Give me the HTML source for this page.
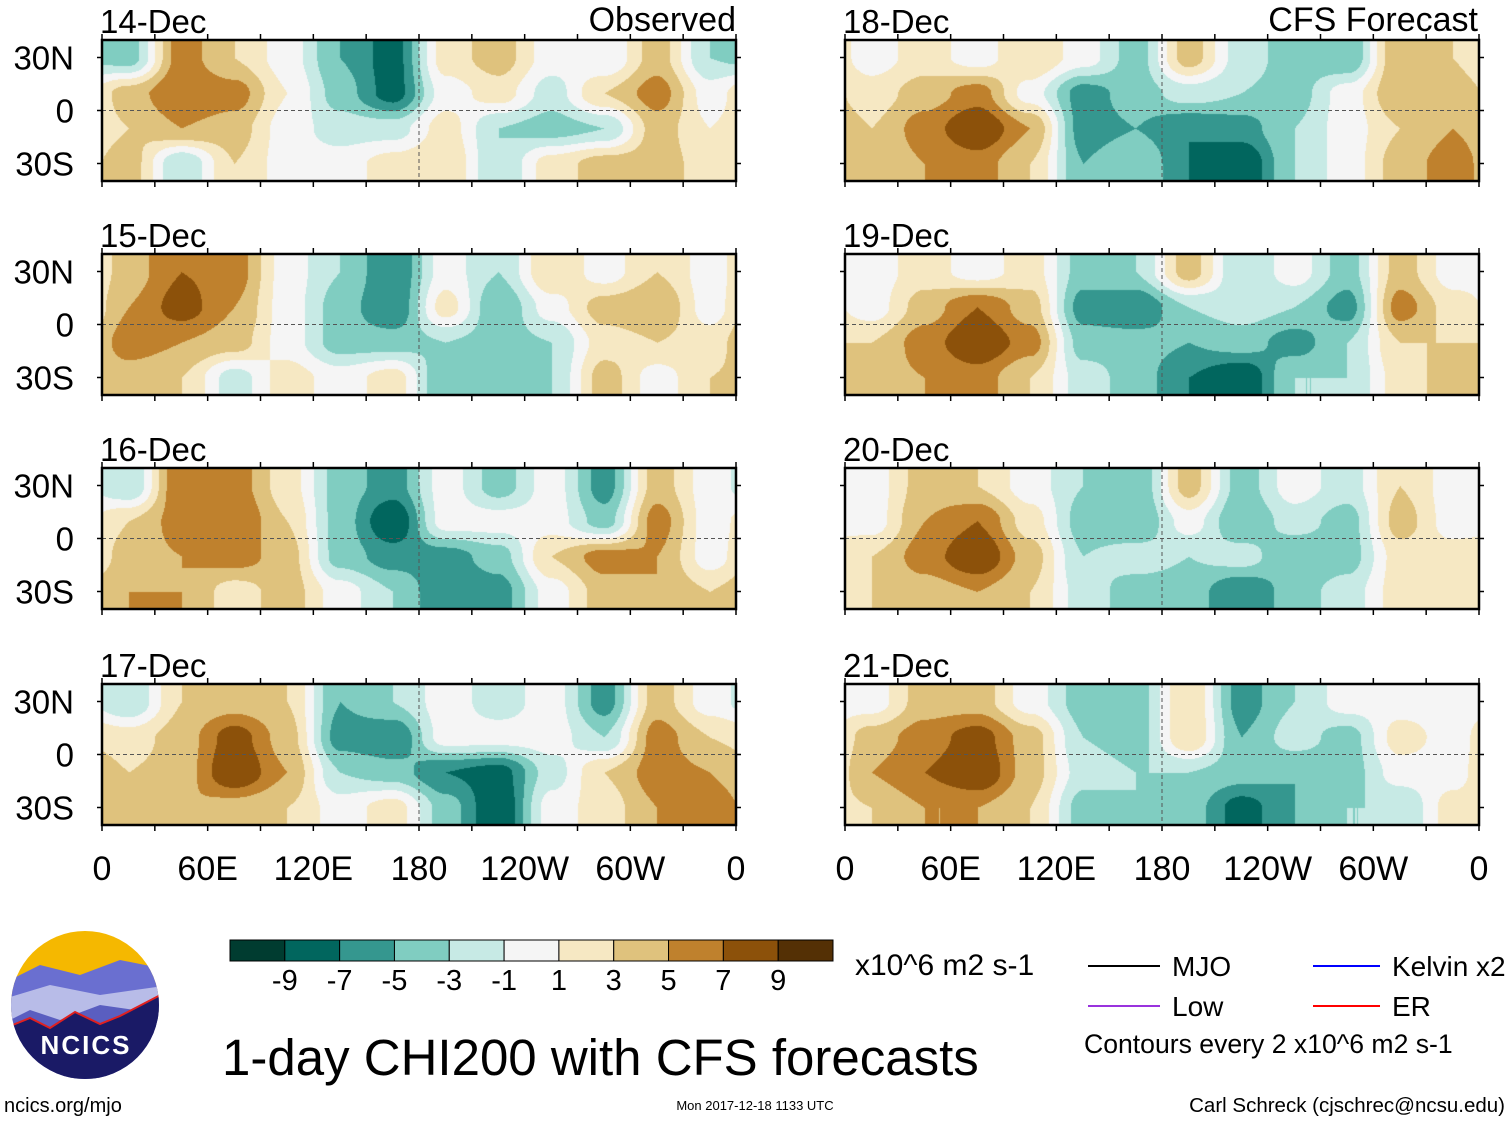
<!DOCTYPE html>
<html><head><meta charset="utf-8">
<style>
body{margin:0;background:#fff;width:1510px;height:1121px;position:relative;overflow:hidden;font-family:"Liberation Sans",sans-serif;}
canvas{position:absolute;}
svg{position:absolute;left:0;top:0;}
</style></head>
<body>
<canvas id="p0" width="634" height="141" style="left:102px;top:40px"></canvas>
<canvas id="p1" width="634" height="141" style="left:102px;top:254px"></canvas>
<canvas id="p2" width="634" height="141" style="left:102px;top:468px"></canvas>
<canvas id="p3" width="634" height="141" style="left:102px;top:684px"></canvas>
<canvas id="p4" width="634" height="141" style="left:845px;top:40px"></canvas>
<canvas id="p5" width="634" height="141" style="left:845px;top:254px"></canvas>
<canvas id="p6" width="634" height="141" style="left:845px;top:468px"></canvas>
<canvas id="p7" width="634" height="141" style="left:845px;top:684px"></canvas>
<svg id="ov" width="1510" height="1121">
<g font-size="30" fill="#000">
<text x="222" y="1075" font-size="51">1-day CHI200 with CFS forecasts</text>
<text x="855" y="975">x10^6 m2 s-1</text>
<line x1="1088" y1="966" x2="1160" y2="966" stroke="#000" stroke-width="2"/>
<text x="1172" y="976" font-size="28">MJO</text>
<line x1="1313" y1="966" x2="1380" y2="966" stroke="#0000ff" stroke-width="2"/>
<text x="1392" y="976" font-size="28">Kelvin x2</text>
<line x1="1088" y1="1006" x2="1160" y2="1006" stroke="#9933dd" stroke-width="2"/>
<text x="1172" y="1016" font-size="28">Low</text>
<line x1="1313" y1="1006" x2="1380" y2="1006" stroke="#ff0000" stroke-width="2"/>
<text x="1392" y="1016" font-size="28">ER</text>
<text x="1084" y="1053" font-size="26.6">Contours every 2 x10^6 m2 s-1</text>
<text x="4" y="1112" font-size="20">ncics.org/mjo</text>
<text x="755" y="1110" font-size="13" text-anchor="middle">Mon 2017-12-18 1133 UTC</text>
<text x="1505" y="1112" font-size="20.5" text-anchor="end">Carl Schreck (cjschrec@ncsu.edu)</text>
</g>
<g>
<clipPath id="lc"><circle cx="85" cy="1005" r="74"/></clipPath>
<g clip-path="url(#lc)">
<rect x="0" y="925" width="170" height="170" fill="#f5b800"/>
<path d="M0 985 L40 965 L80 975 L120 960 L170 970 L170 1095 L0 1095Z" fill="#6a6fd0"/>
<path d="M0 1000 L50 985 L100 995 L170 985 L170 1095 L0 1095Z" fill="#b8bce8"/>
<path d="M0 1025 L30 1010 L60 1020 L100 1005 L170 1015 L170 1095 L0 1095Z" fill="#5a5ec0"/>
<path d="M0 1030 L30 1018 L50 1028 L75 1012 L100 1024 L120 1016 L170 990 L170 1095 L0 1095Z" fill="#1a1a66" stroke="#e02020" stroke-width="2"/>
</g>
<text x="86" y="1054" font-size="26" font-weight="bold" fill="#fff" text-anchor="middle" letter-spacing="2">NCICS</text>
</g>
</svg>
<script>
// Chart data: coarse CHI200 anomaly grids (rows 40N-20N, 20N-0, 0-20S, 20S-40S; 12 cols of 30deg from 0E)
const panelTitles = ["14-Dec","15-Dec","16-Dec","17-Dec","18-Dec","19-Dec","20-Dec","21-Dec"];
const d14 = [[-4,6,3,0,-5,-8,2,4,0,-1,4,-3],[4,7,6,1,-4,-8,0,2,-2,3,6,0],[3,5,4,0,-2,-2,2,-3,-4,-3,4,1],[4,-3,3,0,0,2,3,-3,2,4,4,2]];
const d15 = [[4,7,6,0,-3,-7,0,-3,3,0,3,0],[5,8,5,0,-4,-7,2,-5,0,4,5,0],[6,5,4,0,-4,-4,-3,-4,-3,2,3,2],[4,3,-2,2,0,2,-5,-4,-3,4,0,3]];
const d16 = [[-3,7,6,2,-4,-6,0,-4,0,-6,4,0],[3,6,7,3,-4,-9,0,0,0,-4,6,0],[4,5,6,4,-4,-6,-6,-4,3,6,5,0],[5,5,2,4,0,-3,-7,-6,0,4,5,3]];
const d17 = [[-3,3,4,3,-5,-3,0,-2,0,-6,4,0],[2,4,8,4,-6,-7,0,0,0,-3,6,3],[3,4,9,5,-3,-4,-7,-8,-2,3,6,5],[4,5,4,3,0,2,-4,-9,0,2,5,6]];
const d18 = [[0,2,0,3,0,-4,4,-2,-4,-5,5,3],[2,4,6,0,-6,-4,-2,-3,-4,0,5,4],[3,6,9,5,-6,-5,-7,-6,-3,0,3,5],[3,5,6,3,-5,-3,-7,-9,-3,0,4,6]];
const d19 = [[0,2,0,2,-4,-3,4,-3,0,-4,4,0],[0,4,7,4,-6,-7,-3,-2,-3,-6,6,2],[3,6,9,6,-4,-4,-5,-4,-6,-3,3,3],[4,5,6,3,-2,-4,-7,-9,-3,-3,2,4]];
const d20 = [[0,4,3,0,-3,-5,4,-4,0,-2,3,0],[0,5,7,2,-4,-5,0,-5,-2,-4,4,0],[3,6,9,4,-3,-2,-3,-2,-5,-4,2,2],[3,4,5,3,-2,-4,-4,-7,-4,-2,2,2]];
const d21 = [[0,4,4,0,-4,-4,3,-6,-3,0,0,0],[4,6,8,4,-3,-4,3,-5,-2,-4,2,0],[5,7,9,4,-2,-3,-3,-4,-5,-4,0,0],[3,5,5,3,-4,-3,-4,-8,-5,-3,-3,2]];
const fields = [d14,d15,d16,d17,d18,d19,d20,d21];
const levels = [-9,-7,-5,-3,-1,1,3,5,7,9];
const palette = ["#003c30","#01665e","#35978f","#80cdc1","#c7eae5","#f5f5f5","#f6e8c3","#dfc27d","#bf812d","#8c510a","#543005"];
const xTicks = ["0","60E","120E","180","120W","60W","0"];
const yTicks = ["30N","0","30S"];

const W=634,H=141;
const panelPos=[[102,40],[102,254],[102,468],[102,684],[845,40],[845,254],[845,468],[845,684]];
function hex(c){return [parseInt(c.substr(1,2),16),parseInt(c.substr(3,2),16),parseInt(c.substr(5,2),16)];}
const rgb=palette.map(hex);
function colIdx(v){let i=0;while(i<levels.length&&v>=levels[i])i++;return i;}
function sm(t){return t*t*(3-2*t);}
function sample(g,x,y){
  const nc=g[0].length,nr=g.length;
  let cx=x/W*nc-0.5, cy=Math.max(0,Math.min(nr-1,y/H*nr-0.5));
  let x0=Math.floor(cx),fx=sm(cx-x0);x0=((x0%nc)+nc)%nc;const x1=(x0+1)%nc;
  let y0=Math.floor(cy),fy=sm(cy-y0);const y1=Math.min(nr-1,y0+1);
  const a=g[y0][x0]*(1-fx)+g[y0][x1]*fx, b=g[y1][x0]*(1-fx)+g[y1][x1]*fx;
  return a*(1-fy)+b*fy;
}
fields.forEach((g,k)=>{
  const cv=document.getElementById('p'+k),ctx=cv.getContext('2d');
  const im=ctx.createImageData(W,H);
  for(let y=0;y<H;y++)for(let x=0;x<W;x++){
    const c=rgb[colIdx(sample(g,x,y))],o=(y*W+x)*4;
    im.data[o]=c[0];im.data[o+1]=c[1];im.data[o+2]=c[2];im.data[o+3]=255;
  }
  ctx.putImageData(im,0,0);
});
const NS='http://www.w3.org/2000/svg',ov=document.getElementById('ov');
function mk(t,a,p){const e=document.createElementNS(NS,t);for(const k in a)e.setAttribute(k,a[k]);(p||ov).appendChild(e);return e;}
function lonX(x0,lon){return x0+lon/360*W;}
function latY(y0,lat){return y0+70.5-lat/30*53;}
panelPos.forEach((p,k)=>{
  const [x0,y0]=p;
  const g=mk('g',{});
  
  
  mk('line',{x1:x0,x2:x0+W,y1:latY(y0,0),y2:latY(y0,0),stroke:'#555','stroke-dasharray':'4,3','stroke-width':1},g);
  mk('line',{x1:lonX(x0,180),x2:lonX(x0,180),y1:y0,y2:y0+H,stroke:'#555','stroke-dasharray':'4,3','stroke-width':1},g);
  mk('rect',{x:x0,y:y0,width:W,height:H,fill:'none',stroke:'#000','stroke-width':2.5},g);
  for(let lon=0;lon<=360;lon+=30){const x=lonX(x0,lon);
    mk('line',{x1:x,x2:x,y1:y0,y2:y0-6,stroke:'#000','stroke-width':1.5},g);
    mk('line',{x1:x,x2:x,y1:y0+H,y2:y0+H+6,stroke:'#000','stroke-width':1.5},g);}
  [30,0,-30].forEach(lat=>{const y=latY(y0,lat);
    mk('line',{x1:x0,x2:x0-5,y1:y,y2:y,stroke:'#000','stroke-width':1.5},g);
    mk('line',{x1:x0+W,x2:x0+W+5,y1:y,y2:y,stroke:'#000','stroke-width':1.5},g);});
  const t=mk('text',{x:x0-2,y:y0-7,'font-size':33},g);t.textContent=panelTitles[k];
  
  
  if(k<4){yTicks.forEach((lb,i)=>{const tt=mk('text',{x:x0-28,y:latY(y0,[30,0,-30][i])+12,'font-size':33,'text-anchor':'end'},g);tt.textContent=lb;
    
    });}
  if(k==3||k==7){xTicks.forEach((lb,i)=>{const tt=mk('text',{x:lonX(x0,i*60),y:880,'font-size':34,'text-anchor':'middle'});tt.textContent=lb;
    
    });}
});
let o1=mk('text',{x:736,y:31,'font-size':34,'text-anchor':'end'});o1.textContent='Observed';


let o2=mk('text',{x:1478,y:31,'font-size':34,'text-anchor':'end'});o2.textContent='CFS Forecast';


// colorbar
const cbX=230,cbW=603/11;
palette.forEach((c,i)=>{const r=mk('rect',{x:cbX+i*cbW,y:940,width:cbW,height:21,fill:c,stroke:'#000','stroke-width':1});
  
  });
levels.forEach((lv,i)=>{const t=mk('text',{x:cbX+(i+1)*cbW,y:990,'font-size':29,'text-anchor':'middle'});t.textContent=lv;
  
  });
</script>
</body></html>
